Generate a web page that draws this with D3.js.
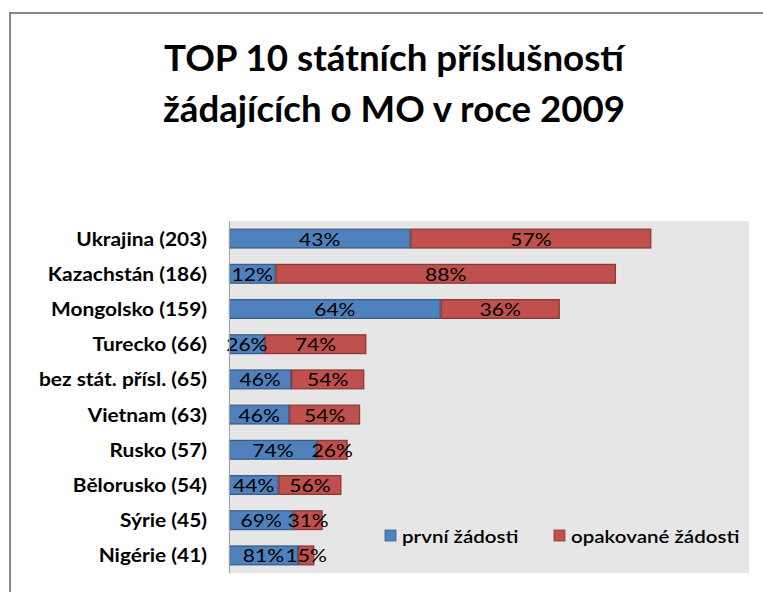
<!DOCTYPE html>
<html>
<head>
<meta charset="utf-8">
<script src="https://cdn.jsdelivr.net/npm/d3@7"></script>
<style>
  html, body { margin: 0; padding: 0; background: #fff; }
  svg { display: block; }
  text { font-family: Lato, "Open Sans", sans-serif; }
</style>
</head>
<body>
<svg id="chart" width="763" height="592"></svg>
<script>
// ---- data ----
const titleLines = ["TOP 10 státních příslušností", "žádajících o MO v roce 2009"];
const countries = ["Ukrajina", "Kazachstán", "Mongolsko", "Turecko", "bez stát. přísl.", "Vietnam", "Rusko", "Bělorusko", "Sýrie", "Nigérie"];
const totals = [203, 186, 159, 66, 65, 63, 57, 54, 45, 41];
const firstPct = [43, 12, 64, 26, 46, 46, 74, 44, 69, 81];
const repeatPct = [57, 88, 36, 74, 54, 54, 26, 56, 31, 15];
const seriesNames = ["první žádosti", "opakované žádosti"];
const colors = ["#4F81BD", "#C0504D"];
const strokes = ["#385D8A", "#8C3836"];

// ---- build ----
const svg = d3.select("#chart");
const W = 763, H = 592;

// horizontally stretch text by a factor (font metrics differ from the original)
function stretch(sel, factor) {
  sel.each(function () {
    const len = this.getComputedTextLength();
    d3.select(this).attr("textLength", len * factor).attr("lengthAdjust", "spacingAndGlyphs");
  });
}

// outer frame
svg.append("rect").attr("x", 10).attr("y", 13).attr("width", W + 10).attr("height", H + 10)
  .attr("fill", "#fff").attr("stroke", "#888").attr("stroke-width", 2);

// title
const titleY = [71, 122];
const titleW = [460, 462];
titleLines.forEach((t, i) => {
  const el = svg.append("text").attr("text-anchor", "middle")
    .attr("font-weight", "bold").attr("font-size", 36).attr("fill", "#000")
    .attr("x", 394).attr("y", titleY[i]).text(t);
  el.attr("textLength", titleW[i]).attr("lengthAdjust", "spacingAndGlyphs");
});

const plot = { left: 229, right: 749, top: 221, bottom: 573 };
svg.append("rect").attr("x", plot.left).attr("y", plot.top)
  .attr("width", plot.right - plot.left).attr("height", plot.bottom - plot.top)
  .attr("fill", "#E6E6E6");

const labels = countries.map((c, i) => `${c} (${totals[i]})`);
const y = d3.scaleBand().domain(labels).range([plot.top, plot.bottom]).paddingInner(0.44).paddingOuter(0.22);
const x = d3.scaleLinear().domain([0, 250]).range([plot.left, plot.right]);

const rows = labels.map((l, i) => {
  const first = totals[i] * firstPct[i] / 100;
  return { label: l, segs: [
    { s: 0, start: 0, end: first, pct: firstPct[i] },
    { s: 1, start: first, end: totals[i], pct: repeatPct[i] }
  ]};
});

const g = svg.append("g");
const row = g.selectAll("g.row").data(rows).join("g").attr("class", "row");
row.selectAll("rect").data(d => d.segs.map(s => Object.assign({ label: d.label }, s))).join("rect")
  .attr("x", d => x(d.start) + 0.5)
  .attr("y", d => y(d.label) + 0.5)
  .attr("width", d => Math.max(0, x(d.end) - x(d.start) - 1))
  .attr("height", y.bandwidth() - 1)
  .attr("fill", d => colors[d.s])
  .attr("stroke", d => strokes[d.s]).attr("stroke-width", 1.3);

const pctText = row.selectAll("text.pct").data(d => d.segs.map(s => Object.assign({ label: d.label }, s))).join("text")
  .attr("class", "pct")
  .attr("x", d => (x(d.start) + x(d.end)) / 2)
  .attr("y", d => y(d.label) + y.bandwidth() / 2 + 7)
  .attr("text-anchor", "middle").attr("font-size", 18).attr("fill", "#000")
  .text(d => d.pct + "%");
stretch(pctText, 1.17);

// axis
const yAxis = d3.axisLeft(y).tickSize(0).tickPadding(22);
const ag = svg.append("g").attr("transform", `translate(${plot.left},0)`).call(yAxis);
ag.select(".domain").attr("stroke", "#A0A0A0").attr("stroke-width", 1);
const tickText = ag.selectAll("text").attr("font-size", 19).attr("font-weight", "bold").attr("fill", "#000")
  .attr("font-family", "Lato, 'Open Sans', sans-serif").attr("dy", null)
  .attr("y", 7);
stretch(tickText, 1.1);

// legend
const legend = svg.append("g");
const lx = [385, 554];
seriesNames.forEach((n, i) => {
  legend.append("rect").attr("x", lx[i]).attr("y", 530).attr("width", 11).attr("height", 11)
    .attr("fill", colors[i]).attr("stroke", strokes[i]).attr("stroke-width", 0.8);
  const t = legend.append("text").attr("x", lx[i] + 17).attr("y", 543)
    .attr("font-size", 18).attr("font-weight", 600).attr("fill", "#000").text(n);
  stretch(t, 1.14);
});
</script>
</body>
</html>
